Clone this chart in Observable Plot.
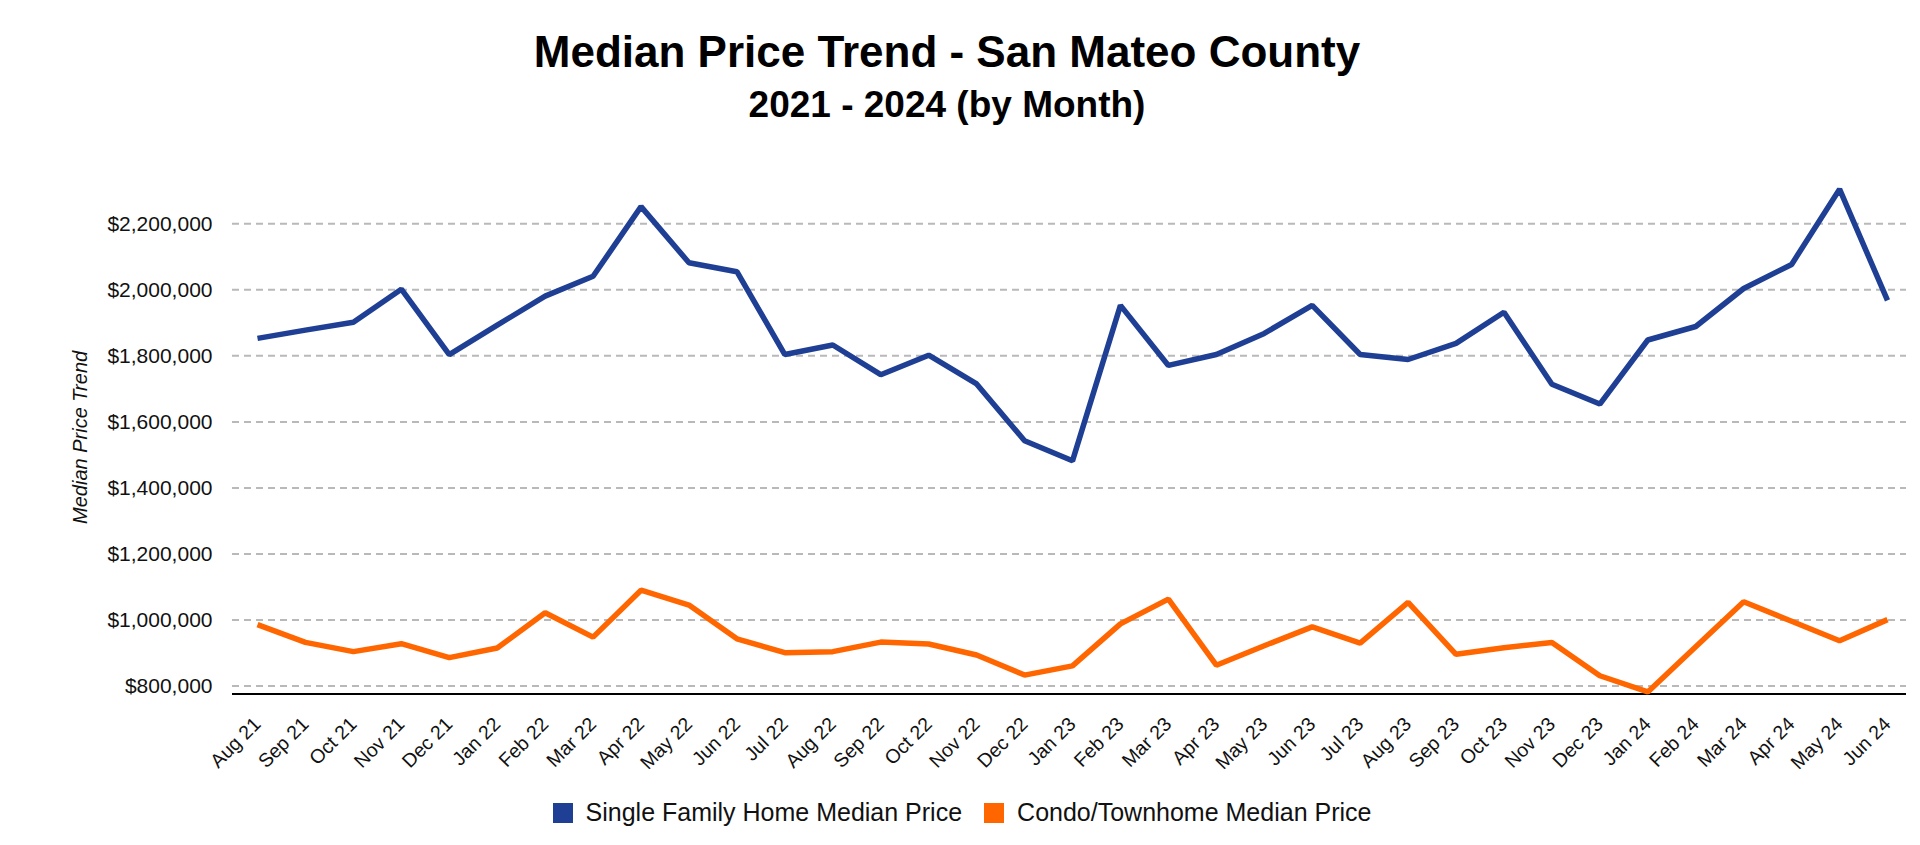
<!DOCTYPE html>
<html>
<head>
<meta charset="utf-8">
<script src="https://cdn.jsdelivr.net/npm/d3@7"></script>
<script src="https://cdn.jsdelivr.net/npm/@observablehq/plot@0.6"></script>
<style>
  html, body { margin: 0; padding: 0; background: #fff; }
  body { width: 1920px; height: 845px; position: relative; overflow: hidden; font-family: "Liberation Sans", Arial, Helvetica, sans-serif; color: #000; }
  .title { position: absolute; left: 0; width: 1894px; text-align: center; font-weight: bold; line-height: 1; white-space: nowrap; }
  #t1 { top: 29.5px; font-size: 44px; }
  #t2 { top: 86px; font-size: 37px; }
  #chart { position: absolute; left: 0; top: 140px; }
  #legend { position: absolute; left: 0; width: 1924px; top: 800px; height: 25px; display: flex; justify-content: center; align-items: center; font-size: 25px; line-height: 1; color: #111; }
  .item { display: flex; align-items: center; margin: 0 11px; }
  .sw { width: 20px; height: 20px; margin-right: 13px; }
</style>
</head>
<body>
<div class="title" id="t1"></div>
<div class="title" id="t2"></div>
<div id="chart"></div>
<div id="legend"></div>
<script>
const titleText = "Median Price Trend - San Mateo County";
const subtitleText = "2021 - 2024 (by Month)";
const yTitle = "Median Price Trend";

const months = ["Aug 21","Sep 21","Oct 21","Nov 21","Dec 21","Jan 22","Feb 22","Mar 22","Apr 22","May 22","Jun 22","Jul 22","Aug 22","Sep 22","Oct 22","Nov 22","Dec 22","Jan 23","Feb 23","Mar 23","Apr 23","May 23","Jun 23","Jul 23","Aug 23","Sep 23","Oct 23","Nov 23","Dec 23","Jan 24","Feb 24","Mar 24","Apr 24","May 24","Jun 24"];

const seriesNames = ["Single Family Home Median Price", "Condo/Townhome Median Price"];
const seriesColors = ["#1e3f94", "#ff6600"];

const singleFamily = [1853000, 1878000, 1902000, 2002000, 1804000, 1893000, 1981000, 2041000, 2252000, 2082000, 2055000, 1804000, 1833000, 1743000, 1802000, 1715000, 1543000, 1482000, 1953000, 1771000, 1804000, 1868000, 1953000, 1804000, 1789000, 1838000, 1932000, 1714000, 1654000, 1848000, 1889000, 2004000, 2077000, 2305000, 1968000];

const condo = [986000, 932000, 904000, 928000, 886000, 915000, 1022000, 948000, 1090000, 1045000, 943000, 901000, 904000, 933000, 927000, 894000, 833000, 861000, 988000, 1063000, 863000, 922000, 979000, 930000, 1053000, 896000, 916000, 932000, 831000, 782000, 919000, 1055000, 996000, 937000, 1001000];

const yTicks = [800000, 1000000, 1200000, 1400000, 1600000, 1800000, 2000000, 2200000];
const yDomain = [776000, 2330000];

document.getElementById("t1").textContent = titleText;
document.getElementById("t2").textContent = subtitleText;

const rows = [];
months.forEach((m, i) => {
  rows.push({month: m, value: singleFamily[i], series: seriesNames[0]});
  rows.push({month: m, value: condo[i], series: seriesNames[1]});
});

const chart = Plot.plot({
  width: 1920,
  height: 650,
  marginLeft: 232,
  marginRight: 14,
  marginTop: 40.4,
  marginBottom: 96.6,
  style: {fontFamily: "'Liberation Sans', Arial, Helvetica, sans-serif", color: "#111", background: "#fff", overflow: "visible"},
  x: {type: "point", domain: months, range: [257, 1887], padding: 0},
  y: {domain: yDomain},
  color: {domain: seriesNames, range: seriesColors},
  marks: [
    Plot.ruleY(yTicks, {stroke: "#b9b9b9", strokeWidth: 2, strokeDasharray: "7,5"}),
    Plot.ruleY([yDomain[0]], {stroke: "#000", strokeWidth: 2}),
    Plot.line(rows, {x: "month", y: "value", z: "series", stroke: "series", strokeWidth: 5.5, strokeLinejoin: "miter", strokeLinecap: "butt"}),
    Plot.axisY(yTicks, {tickSize: 0, tickPadding: 20, fontSize: 21, tickFormat: d3.format("$,"), label: null}),
    Plot.axisX({tickRotate: -45, tickSize: 0, tickPadding: 27, fontSize: 19.5, label: null}),
    Plot.text([yTitle], {frameAnchor: "left", dx: -152, rotate: -90, textAnchor: "middle", lineAnchor: "middle", fontSize: 20, fontStyle: "italic", fill: "#111"})
  ]
});
document.getElementById("chart").appendChild(chart);

const legend = document.getElementById("legend");
seriesNames.forEach((name, i) => {
  const item = document.createElement("div");
  item.className = "item";
  const sw = document.createElement("div");
  sw.className = "sw";
  sw.style.background = seriesColors[i];
  const label = document.createElement("span");
  label.textContent = name;
  item.appendChild(sw);
  item.appendChild(label);
  legend.appendChild(item);
});
</script>
</body>
</html>
